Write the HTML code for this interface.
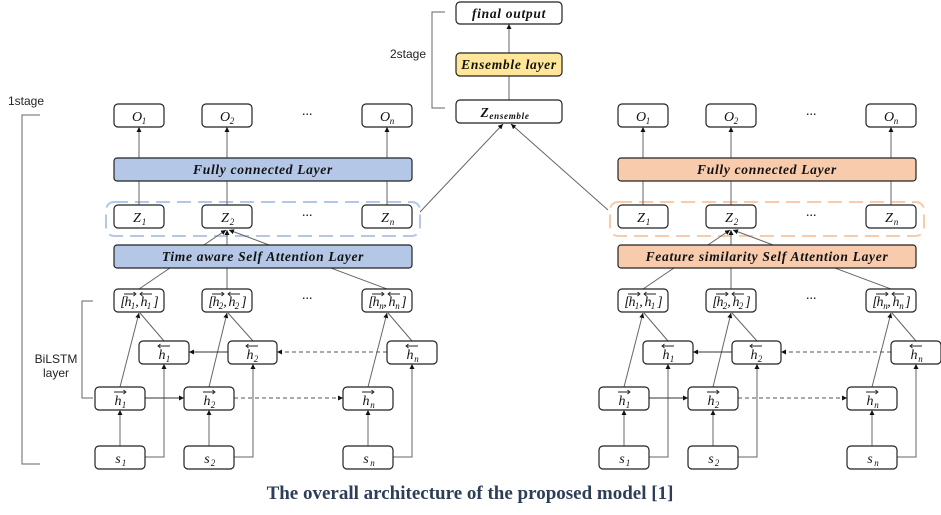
<!DOCTYPE html>
<html><head><meta charset="utf-8"><style>
html,body{margin:0;padding:0;background:#fff;width:941px;height:515px;overflow:hidden}
svg{display:block}
.b{fill:#fff;stroke:#222;stroke-width:1.2}
.m{font-family:"Liberation Serif",serif;font-style:italic;font-size:14px;fill:#111;text-anchor:middle}
.s{font-family:"Liberation Serif",serif;font-style:italic;font-size:9px;fill:#111;text-anchor:middle}
.L{font-family:"Liberation Serif",serif;font-style:italic;font-weight:bold;font-size:13.5px;fill:#111;text-anchor:middle;letter-spacing:0.7px}
.ln{stroke:#666;stroke-width:1;fill:none}
.lk{stroke:#333;stroke-width:1;fill:none}
.dl{stroke:#555;stroke-width:1;fill:none;stroke-dasharray:4 3}
.ar{stroke:#222;stroke-width:0.9;fill:none}
.t{font-family:"Liberation Sans",sans-serif;font-size:12px;fill:#222}
</style></head><body>
<svg width="941" height="515" viewBox="0 0 941 515" xmlns="http://www.w3.org/2000/svg">
<defs>
<marker id="a" markerWidth="6" markerHeight="6" refX="5" refY="3" orient="auto" markerUnits="userSpaceOnUse"><path d="M0,0.5 L5,3 L0,5.5z" fill="#111"/></marker>
<path id="ra" class="ar" d="M-6,0 H6 M3.5,-2 L6,0 L3.5,2"/>
<path id="la" class="ar" d="M-6,0 H6 M-3.5,-2 L-6,0 L-3.5,2"/>
<g id="side">
<line class="ln" x1="139" y1="158" x2="139" y2="127" marker-end="url(#a)"/>
<line class="ln" x1="227" y1="158" x2="227" y2="127" marker-end="url(#a)"/>
<line class="ln" x1="387" y1="158" x2="387" y2="127" marker-end="url(#a)"/>
<line class="ln" x1="139" y1="205" x2="139" y2="181"/>
<line class="ln" x1="227" y1="205" x2="227" y2="181"/>
<line class="ln" x1="387" y1="205" x2="387" y2="181"/>
<line class="ln" x1="139" y1="289" x2="226" y2="230" marker-end="url(#a)"/>
<line class="ln" x1="227" y1="289" x2="227" y2="230" marker-end="url(#a)"/>
<line class="ln" x1="387" y1="289" x2="229" y2="230" marker-end="url(#a)"/>
<line class="ln" x1="120" y1="387" x2="139" y2="313" marker-end="url(#a)"/>
<line class="ln" x1="164" y1="341" x2="140" y2="313"/>
<line class="ln" x1="209" y1="387" x2="227" y2="313" marker-end="url(#a)"/>
<line class="ln" x1="253" y1="341" x2="228" y2="313"/>
<line class="ln" x1="368" y1="387" x2="387" y2="313" marker-end="url(#a)"/>
<line class="ln" x1="412" y1="341" x2="388" y2="313"/>
<line class="ln" x1="120" y1="446" x2="120" y2="410" marker-end="url(#a)"/>
<line class="ln" x1="209" y1="446" x2="209" y2="410" marker-end="url(#a)"/>
<line class="ln" x1="368" y1="446" x2="368" y2="410" marker-end="url(#a)"/>
<path class="ln" d="M145,457 H164 V364" marker-end="url(#a)"/>
<path class="ln" d="M234,457 H253 V364" marker-end="url(#a)"/>
<path class="ln" d="M393,457 H412 V364" marker-end="url(#a)"/>
<line class="lk" x1="145" y1="398" x2="184" y2="398" marker-end="url(#a)"/>
<line class="dl" x1="234" y1="398" x2="343" y2="398" marker-end="url(#a)"/>
<line class="lk" x1="228" y1="352" x2="189" y2="352" marker-end="url(#a)"/>
<line class="dl" x1="387" y1="352" x2="277" y2="352" marker-end="url(#a)"/>
<rect class="b" x="114" y="104" width="50" height="23" rx="4"/><text class="m" x="137" y="121">O</text><text class="s" x="144" y="124">1</text>
<rect class="b" x="202" y="104" width="50" height="23" rx="4"/><text class="m" x="225" y="121">O</text><text class="s" x="232" y="124">2</text>
<text class="m" x="307" y="119">···</text>
<rect class="b" x="362" y="104" width="50" height="23" rx="4"/><text class="m" x="385" y="121">O</text><text class="s" x="392" y="124">n</text>
<rect class="b" x="114" y="205" width="50" height="23" rx="4"/><text class="m" x="137" y="222">Z</text><text class="s" x="144" y="225">1</text>
<rect class="b" x="202" y="205" width="50" height="23" rx="4"/><text class="m" x="225" y="222">Z</text><text class="s" x="232" y="225">2</text>
<text class="m" x="307" y="220">···</text>
<rect class="b" x="362" y="205" width="50" height="23" rx="4"/><text class="m" x="385" y="222">Z</text><text class="s" x="392" y="225">n</text>
<!-- pair boxes -->
<rect class="b" x="114" y="289" width="50" height="23" rx="4"/>
<text class="m" x="123" y="306">[</text><text class="m" x="128" y="306">h</text><text class="s" x="133" y="309">1</text><text class="m" x="137" y="306">,</text><text class="m" x="144" y="306">h</text><text class="s" x="149" y="309">1</text><text class="m" x="156" y="306">]</text>
<use href="#ra" x="130" y="294"/><use href="#la" x="146" y="294"/>
<rect class="b" x="202" y="289" width="50" height="23" rx="4"/>
<text class="m" x="211" y="306">[</text><text class="m" x="216" y="306">h</text><text class="s" x="221" y="309">2</text><text class="m" x="225" y="306">,</text><text class="m" x="232" y="306">h</text><text class="s" x="237" y="309">2</text><text class="m" x="244" y="306">]</text>
<use href="#ra" x="218" y="294"/><use href="#la" x="234" y="294"/>
<text class="m" x="307" y="303">···</text>
<rect class="b" x="362" y="289" width="50" height="23" rx="4"/>
<text class="m" x="371" y="306">[</text><text class="m" x="376" y="306">h</text><text class="s" x="381.5" y="309">n</text><text class="m" x="385" y="306">,</text><text class="m" x="392" y="306">h</text><text class="s" x="397.5" y="309">n</text><text class="m" x="404" y="306">]</text>
<use href="#ra" x="378" y="294"/><use href="#la" x="394" y="294"/>
<!-- backward -->
<rect class="b" x="139" y="341" width="50" height="23" rx="4"/><text class="m" x="162" y="359">h</text><text class="s" x="168" y="362">1</text><use href="#la" x="164" y="346"/>
<rect class="b" x="228" y="341" width="49" height="23" rx="4"/><text class="m" x="250" y="359">h</text><text class="s" x="256" y="362">2</text><use href="#la" x="252" y="346"/>
<rect class="b" x="387" y="341" width="50" height="23" rx="4"/><text class="m" x="410" y="359">h</text><text class="s" x="416.5" y="362">n</text><use href="#la" x="412" y="346"/>
<!-- forward -->
<rect class="b" x="95" y="387" width="50" height="23" rx="4"/><text class="m" x="118" y="405">h</text><text class="s" x="124" y="408">1</text><use href="#ra" x="120" y="392"/>
<rect class="b" x="184" y="387" width="50" height="23" rx="4"/><text class="m" x="207" y="405">h</text><text class="s" x="213" y="408">2</text><use href="#ra" x="209" y="392"/>
<rect class="b" x="343" y="387" width="50" height="23" rx="4"/><text class="m" x="366" y="405">h</text><text class="s" x="372.5" y="408">n</text><use href="#ra" x="368" y="392"/>
<rect class="b" x="95" y="446" width="50" height="23" rx="4"/><text class="m" x="118" y="463">s</text><text class="s" x="124" y="466">1</text>
<rect class="b" x="184" y="446" width="50" height="23" rx="4"/><text class="m" x="207" y="463">s</text><text class="s" x="213" y="466">2</text>
<rect class="b" x="343" y="446" width="50" height="23" rx="4"/><text class="m" x="366" y="463">s</text><text class="s" x="372.5" y="466">n</text>
</g>
</defs>

<text class="t" x="8" y="105">1stage</text>
<path class="ln" d="M40,115 H22 V464 H40"/>
<text class="t" x="390" y="58">2stage</text>
<path class="ln" d="M445,12 H432 V108 H445"/>
<text class="t" x="56" y="363" text-anchor="middle">BiLSTM</text>
<text class="t" x="56" y="377" text-anchor="middle">layer</text>
<path class="ln" d="M93,301 H82 V398 H93"/>

<line class="ln" x1="509" y1="53" x2="509" y2="24" marker-end="url(#a)"/>
<line class="ln" x1="509" y1="100" x2="509" y2="76"/>
<rect class="b" x="456" y="2" width="106" height="22" rx="4"/>
<text class="L" x="509" y="18">final output</text>
<rect x="456" y="53" width="106" height="23" rx="4" fill="#ffe699" stroke="#222" stroke-width="1.2"/>
<text class="L" x="509" y="69">Ensemble layer</text>
<rect class="b" x="456" y="100" width="106" height="23" rx="4"/>
<text class="L" x="505" y="117">Z<tspan font-size="9" dy="2">ensemble</tspan></text>
<line class="ln" x1="420" y1="212" x2="503" y2="124" marker-end="url(#a)"/>
<line class="ln" x1="608" y1="210" x2="511" y2="124" marker-end="url(#a)"/>

<!-- LEFT -->
<rect x="106" y="202" width="314" height="34" rx="8" fill="none" stroke="#b4c7e7" stroke-width="2" stroke-dasharray="14 7"/>
<use href="#side"/>
<rect x="114" y="158" width="298" height="23" rx="3" fill="#b4c7e7" stroke="#222" stroke-width="1.2"/>
<text class="L" x="263" y="174">Fully connected Layer</text>
<rect x="114" y="245" width="298" height="23" rx="3" fill="#b4c7e7" stroke="#222" stroke-width="1.2"/>
<text class="L" x="263" y="261">Time aware Self Attention Layer</text>

<!-- RIGHT -->
<rect x="610" y="202" width="314" height="34" rx="8" fill="none" stroke="#f8cbad" stroke-width="2" stroke-dasharray="14 7"/>
<use href="#side" x="504"/>
<rect x="618" y="158" width="298" height="23" rx="3" fill="#f8cbad" stroke="#222" stroke-width="1.2"/>
<text class="L" x="767" y="174">Fully connected Layer</text>
<rect x="618" y="245" width="298" height="23" rx="3" fill="#f8cbad" stroke="#222" stroke-width="1.2"/>
<text class="L" x="767" y="261">Feature similarity Self Attention Layer</text>

<text x="470" y="499" text-anchor="middle" font-family="Liberation Serif, serif" font-weight="bold" font-size="19" fill="#2e3e56">The overall architecture of the proposed model [1]</text>
</svg>
</body></html>
